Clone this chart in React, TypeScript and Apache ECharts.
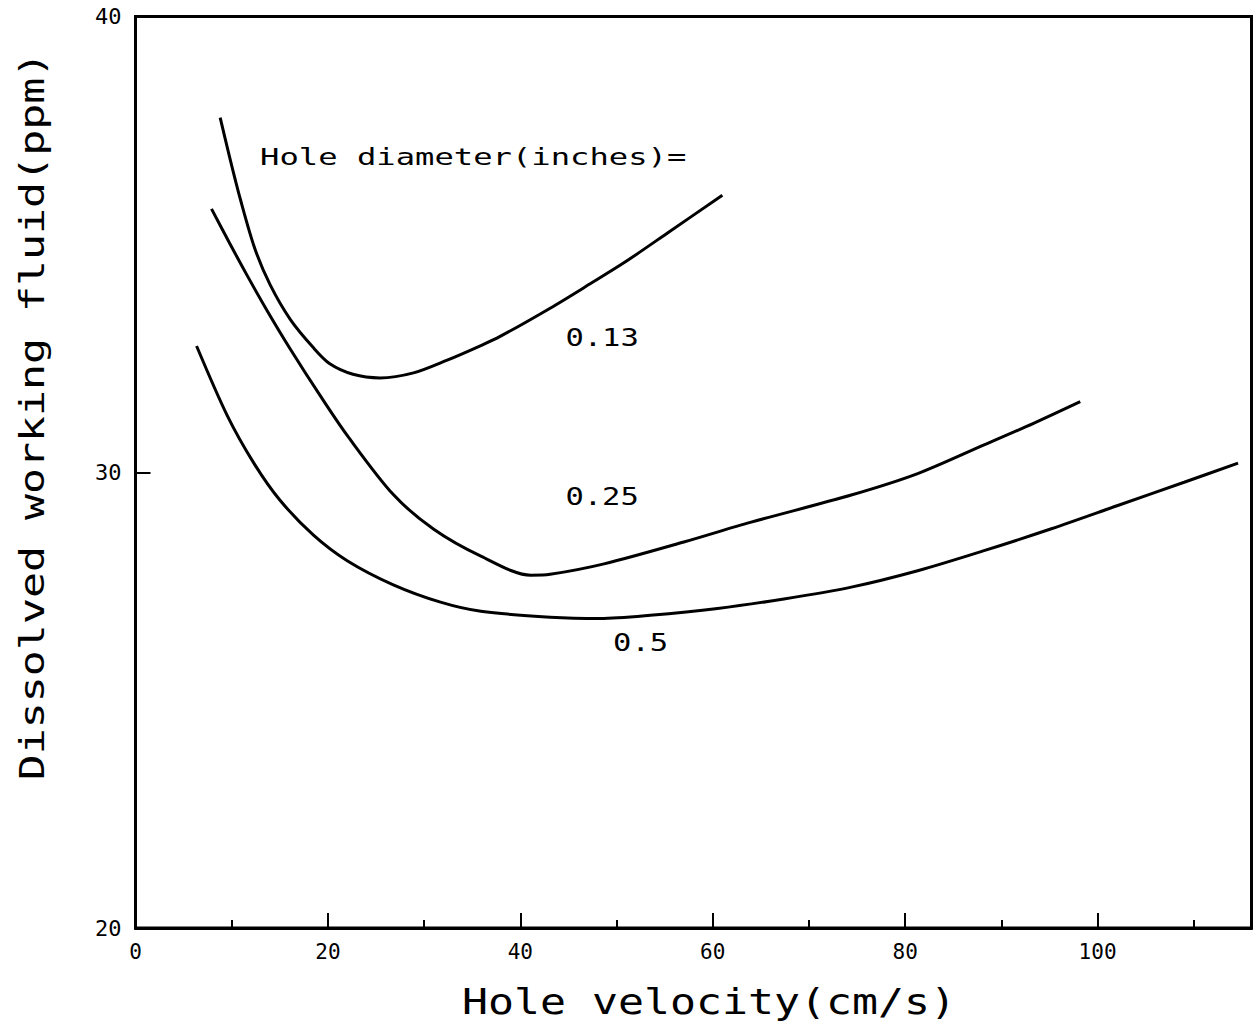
import React, { useEffect, useRef } from "react";
import * as echarts from "echarts";

const FONT = "'DejaVu Sans Mono', 'Liberation Mono', monospace";

const xTitle = "Hole velocity(cm/s)";
const yTitle = "Dissolved working fluid(ppm)";
const legendTitle = "Hole diameter(inches)=";
const seriesNames = ["0.13", "0.25", "0.5"];

// Hole diameter 0.13 in
const curve013: [number, number][] = [
  [8.8, 37.78], [9.8, 36.9], [10.9, 35.99], [12.4, 34.91], [14.0, 34.11],
  [16.1, 33.35], [18.5, 32.73], [20.2, 32.38], [22.6, 32.15], [25.4, 32.07],
  [28.9, 32.18], [32.4, 32.46], [35.9, 32.78], [37.9, 32.98], [43.1, 33.6],
  [47.3, 34.14], [50.8, 34.6], [55.3, 35.25], [61.0, 36.08],
];

// Hole diameter 0.25 in
const curve025: [number, number][] = [
  [7.9, 35.78], [9.8, 35.02], [11.6, 34.32], [13.7, 33.54], [16.1, 32.7],
  [19.2, 31.68], [22.0, 30.81], [26.8, 29.51], [31.0, 28.75], [35.9, 28.16],
  [41.1, 27.74], [43.1, 27.76], [48.7, 27.99], [57.0, 28.47], [63.9, 28.9],
  [74.4, 29.5], [81.3, 29.97], [88.2, 30.6], [93.4, 31.08], [98.2, 31.55],
];

// Hole diameter 0.5 in
const curve05: [number, number][] = [
  [6.35, 32.77], [9.5, 31.26], [12.3, 30.2], [15.0, 29.39], [18.5, 28.62],
  [22.0, 28.06], [26.8, 27.53], [31.7, 27.15], [35.9, 26.95], [43.1, 26.82],
  [48.3, 26.79], [53.5, 26.86], [60.5, 27.01], [67.4, 27.22], [74.4, 27.48],
  [81.3, 27.84], [88.2, 28.28], [95.2, 28.76], [102.1, 29.27], [109.0, 29.78],
  [114.6, 30.2],
];

const curves = [curve013, curve025, curve05];

// curve label positions (data coordinates)
const labelPos: [number, number][] = [[48.5, 32.95], [48.5, 29.47], [52.5, 26.27]];

const X_MIN = 0;
const X_MAX = 116;
const X_INTERVAL = 20;
const X_MINOR_INTERVAL = 10;
const Y_MIN = 20;
const Y_MAX = 40;
const Y_INTERVAL = 10;

export default function App() {
  const ref = useRef<HTMLDivElement>(null);

  useEffect(() => {
    if (!ref.current) return;
    const chart = echarts.init(ref.current, null, { renderer: "svg" });

    const grid = { left: 135.5, top: 16.5, right: 7.5, bottom: 98 };

    const option: any = {
      animation: false,
      backgroundColor: "#ffffff",
      grid: {
        ...grid,
        show: true,
        borderColor: "#000",
        borderWidth: 3,
        backgroundColor: "transparent",
      },
      xAxis: [
        {
          type: "value",
          min: X_MIN,
          max: X_MAX,
          interval: X_INTERVAL,
          position: "bottom",
          axisLine: { show: true, lineStyle: { color: "#000", width: 3 } },
          axisTick: { show: true, inside: true, length: 15, lineStyle: { color: "#000", width: 2 } },
          splitLine: { show: false },
          axisLabel: {
            show: true,
            showMaxLabel: false,
            margin: 13,
            color: "#000",
            fontFamily: FONT,
            fontSize: 21,
          },
        },
        {
          type: "value",
          min: X_MIN,
          max: X_MAX,
          interval: X_MINOR_INTERVAL,
          position: "bottom",
          axisLine: { show: false },
          axisTick: { show: true, inside: true, length: 8, lineStyle: { color: "#000", width: 2 } },
          splitLine: { show: false },
          axisLabel: { show: false },
        },
      ],
      yAxis: {
        type: "value",
        min: Y_MIN,
        max: Y_MAX,
        interval: Y_INTERVAL,
        axisLine: { show: true, lineStyle: { color: "#000", width: 3 } },
        axisTick: { show: true, inside: true, length: 15, lineStyle: { color: "#000", width: 2 } },
        splitLine: { show: false },
        axisLabel: {
          show: true,
          margin: 14,
          color: "#000",
          fontFamily: FONT,
          fontSize: 22,
        },
      },
      series: curves.map((c, i) => ({
        name: seriesNames[i],
        type: "line",
        xAxisIndex: 0,
        data: c,
        smooth: 0.3,
        showSymbol: false,
        symbol: "none",
        lineStyle: { color: "#000", width: 3 },
      })),
    };

    chart.setOption(option);

    const labelGraphics = seriesNames.map((name, i) => {
      const p = chart.convertToPixel({ xAxisIndex: 0, yAxisIndex: 0 }, labelPos[i]) as number[];
      return {
        type: "text",
        x: p[0],
        y: p[1],
        scaleX: 1.27,
        style: {
          text: name,
          fontFamily: FONT,
          fontSize: 24,
          fill: "#000",
          align: "center",
          verticalAlign: "middle",
        },
      };
    });

    chart.setOption({
      graphic: [
        {
          type: "text",
          x: 260,
          y: 157,
          scaleX: 1.4,
          style: {
            text: legendTitle,
            fontFamily: FONT,
            fontSize: 23,
            fill: "#000",
            align: "left",
            verticalAlign: "middle",
          },
        },
        ...labelGraphics,
        {
          type: "text",
          x: 709,
          y: 1001,
          scaleX: 1.2,
          style: {
            text: xTitle,
            fontFamily: FONT,
            fontSize: 36,
            fill: "#000",
            align: "center",
            verticalAlign: "middle",
          },
        },
        {
          type: "text",
          x: 32,
          y: 416,
          rotation: Math.PI / 2,
          scaleX: 1.31,
          style: {
            text: yTitle,
            fontFamily: FONT,
            fontSize: 33,
            fill: "#000",
            align: "center",
            verticalAlign: "middle",
          },
        },
      ],
    });

    return () => chart.dispose();
  }, []);

  return (
    <div
      ref={ref}
      style={{ position: "absolute", left: 0, top: 0, width: 1259, height: 1026, background: "#fff" }}
    />
  );
}
